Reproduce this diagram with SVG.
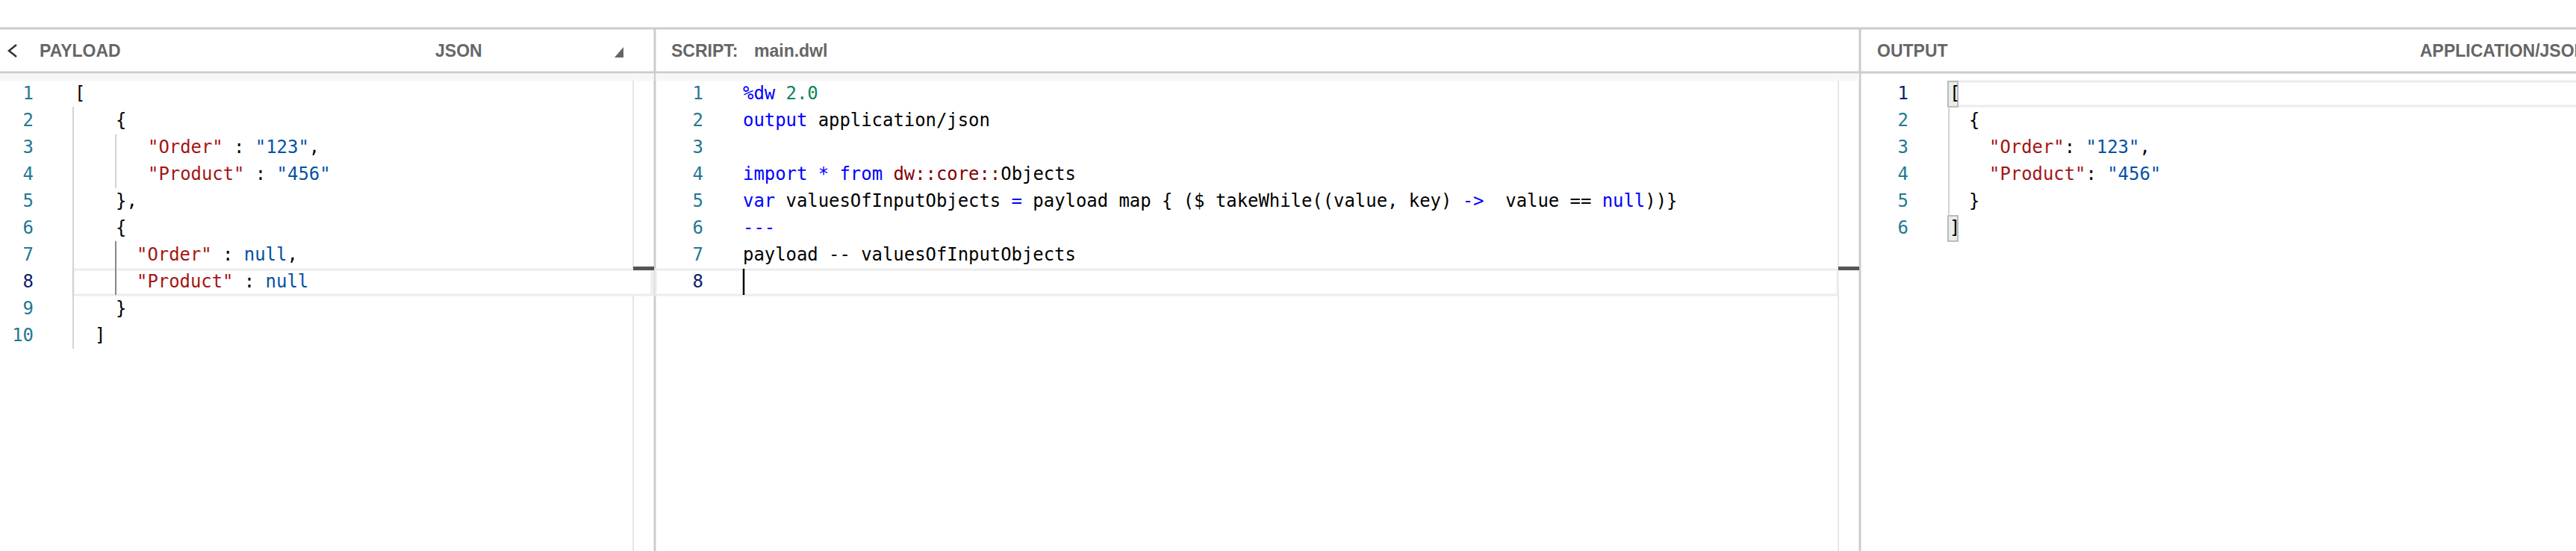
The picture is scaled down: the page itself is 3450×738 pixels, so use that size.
<svg xmlns="http://www.w3.org/2000/svg" width="3450" height="738" viewBox="0 0 3450 738">
<style>
.hd{font-family:"Liberation Sans",Arial,sans-serif;font-weight:bold;font-size:23px;fill:#666}
.c{font-family:"DejaVu Sans Mono",monospace;font-size:23.9px;fill:#000;white-space:pre}
.ln{font-family:"DejaVu Sans Mono",monospace;font-size:23.9px;fill:#237893;text-anchor:end}
.k{fill:#a31515}.s{fill:#0451a5}.b{fill:#0000ff}.g{fill:#098658}.m{fill:#800000}
.bd{stroke:#ccc;stroke-width:3;fill:none}
.gd{stroke:#d3d3d3;stroke-width:2}
</style>
<rect width="3450" height="738" fill="#fff"/>
<g id="frame">
<line class="bd" x1="0" y1="38" x2="3450" y2="38"/>
<line class="bd" x1="0" y1="97" x2="3450" y2="97"/>
<line class="bd" x1="877" y1="38" x2="877" y2="738"/>
<line class="bd" x1="2491" y1="38" x2="2491" y2="738"/>
<rect x="0" y="98.5" width="876" height="10" fill="#f7f7f7"/>
<rect x="878" y="98.5" width="1612" height="10" fill="#f7f7f7"/>
<line stroke="#e6e6e6" stroke-width="2" x1="848" y1="108" x2="848" y2="738"/>
<line stroke="#e6e6e6" stroke-width="2" x1="2462" y1="108" x2="2462" y2="738"/>
</g>
<g id="payload">
<path d="M22 60 L12 68 L22 76" stroke="#333" stroke-width="2.5" fill="none"/>
<text class="hd" x="53" y="76">PAYLOAD</text>
<text class="hd" x="583" y="76">JSON</text>
<path d="M823 77 L835 77 L835 63 Z" fill="#666"/>
<rect x="98" y="361" width="775" height="34" fill="#fff" stroke="#ececec" stroke-width="3"/>
<rect x="848" y="357" width="28" height="5" fill="#555"/>
<line class="gd" x1="98" y1="143" x2="98" y2="467"/>
<line class="gd" x1="155" y1="180" x2="155" y2="252"/>
<line stroke="#888" stroke-width="2" x1="155" y1="323" x2="155" y2="395"/>
<text class="ln" x="45" y="133">1</text><text class="ln" x="45" y="169">2</text><text class="ln" x="45" y="205">3</text><text class="ln" x="45" y="241">4</text><text class="ln" x="45" y="277">5</text><text class="ln" x="45" y="313">6</text><text class="ln" x="45" y="349">7</text><text class="ln" x="45" y="385" style="fill:#0b216f">8</text><text class="ln" x="45" y="421">9</text><text class="ln" x="45" y="457">10</text>
<text class="c" x="100" y="133">[</text>
<text class="c" x="155" y="169">{</text>
<text class="c" x="198" y="205"><tspan class="k">"Order"</tspan> : <tspan class="s">"123"</tspan>,</text>
<text class="c" x="198" y="241"><tspan class="k">"Product"</tspan> : <tspan class="s">"456"</tspan></text>
<text class="c" x="155" y="277">},</text>
<text class="c" x="155" y="313">{</text>
<text class="c" x="183" y="349"><tspan class="k">"Order"</tspan> : <tspan class="s">null</tspan>,</text>
<text class="c" x="183" y="385"><tspan class="k">"Product"</tspan> : <tspan class="s">null</tspan></text>
<text class="c" x="155" y="421">}</text>
<text class="c" x="127" y="457">]</text>
</g>
<g id="script">
<text class="hd" x="899" y="76">SCRIPT:<tspan x="1010">main.dwl</tspan></text>
<rect x="878" y="361" width="1583" height="34" fill="#fff" stroke="#ececec" stroke-width="3"/>
<rect x="860" y="357" width="16" height="5" fill="#555"/>
<rect x="2462" y="357" width="28" height="5" fill="#555"/>
<line x1="996" y1="360" x2="996" y2="395" stroke="#000" stroke-width="2.5"/>
<text class="ln" x="942" y="133">1</text><text class="ln" x="942" y="169">2</text><text class="ln" x="942" y="205">3</text><text class="ln" x="942" y="241">4</text><text class="ln" x="942" y="277">5</text><text class="ln" x="942" y="313">6</text><text class="ln" x="942" y="349">7</text><text class="ln" x="942" y="385" style="fill:#0b216f">8</text>
<text class="c" x="995" y="133"><tspan class="b">%dw</tspan> <tspan class="g">2.0</tspan></text>
<text class="c" x="995" y="169"><tspan class="b">output</tspan> application/json</text>
<text class="c" x="995" y="241"><tspan class="b">import</tspan> <tspan class="b">*</tspan> <tspan class="b">from</tspan> <tspan class="m">dw::core::</tspan>Objects</text>
<text class="c" x="995" y="277"><tspan class="b">var</tspan> valuesOfInputObjects <tspan class="b">=</tspan> payload map { ($ takeWhile((value, key) <tspan class="b">-&gt;</tspan>  value == <tspan class="b">null</tspan>))}</text>
<text class="c" x="995" y="313"><tspan class="b">---</tspan></text>
<text class="c" x="995" y="349">payload -- valuesOfInputObjects</text>
</g>
<g id="output">
<text class="hd" x="2514" y="76">OUTPUT</text>
<text class="hd" x="3241" y="76">APPLICATION/JSON</text>
<rect x="2622" y="109" width="830" height="33" fill="#fff" stroke="#ececec" stroke-width="3"/>
<rect x="2609" y="109" width="13" height="34" fill="#e8eee8" stroke="#bbb" stroke-width="2"/>
<rect x="2609" y="289" width="13" height="34" fill="#e8eee8" stroke="#bbb" stroke-width="2"/>
<line class="gd" x1="2610" y1="143" x2="2610" y2="289"/>
<text class="ln" x="2556" y="133" style="fill:#0b216f">1</text><text class="ln" x="2556" y="169">2</text><text class="ln" x="2556" y="205">3</text><text class="ln" x="2556" y="241">4</text><text class="ln" x="2556" y="277">5</text><text class="ln" x="2556" y="313">6</text>
<text class="c" x="2611" y="133">[</text>
<text class="c" x="2637" y="169">{</text>
<text class="c" x="2664" y="205"><tspan class="k">"Order"</tspan>: <tspan class="s">"123"</tspan>,</text>
<text class="c" x="2664" y="241"><tspan class="k">"Product"</tspan>: <tspan class="s">"456"</tspan></text>
<text class="c" x="2637" y="277">}</text>
<text class="c" x="2611" y="313">]</text>
</g>
</svg>
